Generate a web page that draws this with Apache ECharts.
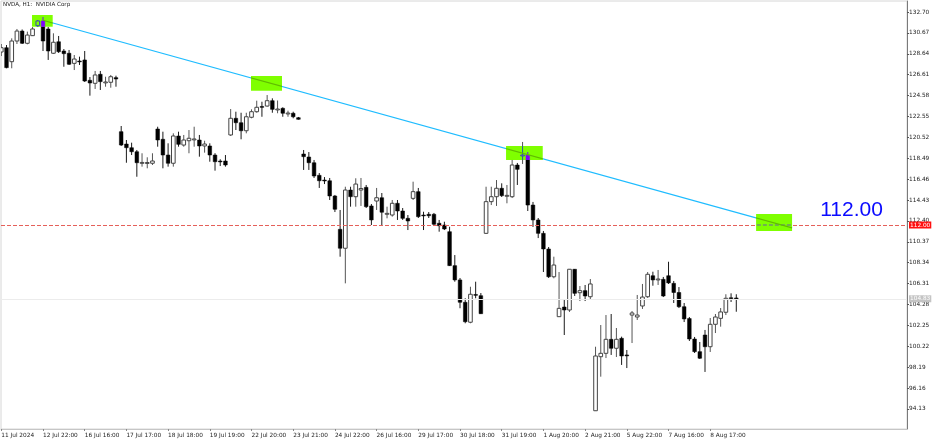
<!DOCTYPE html>
<html><head><meta charset="utf-8">
<script src="https://cdn.jsdelivr.net/npm/echarts@6/dist/echarts.min.js"></script>
<style>html,body{margin:0;padding:0;background:#fff}#chart{width:936px;height:442px}</style>
</head><body><div id="chart"></div>
<script>
// ---- data (H1 bars, index 0 = 11 Jul 21:00) ----
const opens = [128.81,129.23,127.87,129.88,130.85,129.66,130.40,131.37,131.83,131.05,128.69,129.81,128.91,128.69,127.71,127.94,128.04,126.06,125.77,126.65,125.87,125.87,126.32,121.07,119.87,119.51,119.12,118.05,118.05,118.00,121.33,120.33,118.80,118.00,120.65,119.77,120.19,120.33,120.26,119.68,119.68,118.80,118.22,118.22,120.75,122.37,121.94,121.16,122.47,123.01,123.52,123.56,124.08,123.24,123.34,122.86,122.86,122.43,118.90,118.61,118.05,116.83,116.37,116.30,114.82,111.58,109.74,115.40,114.75,115.40,115.66,113.85,114.33,114.65,113.10,112.97,114.11,113.36,112.65,114.59,115.24,112.97,113.04,113.04,112.17,112.00,111.35,108.05,106.66,104.49,102.55,105.25,105.13,111.19,114.27,114.75,115.57,114.85,114.75,117.83,118.71,118.80,113.94,112.49,111.19,109.67,106.97,103.09,104.03,103.74,107.70,105.42,105.62,105.03,93.95,99.20,99.53,100.89,100.02,100.99,99.37,103.25,103.06,104.13,105.03,107.07,106.72,106.72,107.07,106.33,105.44,104.06,102.91,100.92,99.69,101.31,100.17,102.35,102.93,103.52,104.93,104.91];
const highs = [129.59,129.49,130.14,131.05,131.00,130.79,131.24,131.92,132.21,131.24,130.63,130.37,129.10,129.01,128.52,128.36,128.91,126.38,126.97,126.97,126.41,126.58,126.51,121.62,120.26,120.00,119.29,118.97,118.58,118.97,121.55,121.07,119.94,120.91,121.07,120.75,121.23,121.55,120.75,120.19,119.94,118.98,118.39,118.80,123.27,123.01,122.91,122.91,123.24,124.08,123.98,124.63,124.31,124.10,123.44,123.11,123.01,122.50,119.29,119.09,118.32,117.05,116.66,116.57,114.92,113.46,115.72,115.72,116.54,116.57,115.89,114.04,115.60,115.11,113.78,114.43,114.43,113.65,112.97,116.21,115.60,113.29,113.26,113.17,112.49,112.32,111.83,109.08,106.85,104.88,106.00,106.49,105.39,115.72,115.72,116.37,116.05,115.89,118.32,118.03,120.07,119.09,114.24,112.68,111.42,109.86,108.92,107.43,104.71,107.72,107.72,106.07,106.17,106.75,100.17,102.28,103.25,103.35,101.99,101.15,99.85,103.64,105.20,106.27,107.43,107.46,107.63,106.95,108.43,106.56,105.97,104.42,103.06,101.12,100.63,101.80,102.96,103.35,103.93,105.27,105.36,105.27];
const lows = [128.42,127.23,127.23,129.59,129.59,129.56,130.37,131.24,128.91,128.04,128.62,128.72,127.38,127.55,127.06,127.55,125.90,124.57,125.22,125.12,125.44,125.34,125.44,119.68,118.05,118.80,116.69,117.67,117.51,117.83,119.61,117.51,117.67,117.67,119.61,119.61,118.97,119.61,118.64,119.03,118.15,117.28,117.73,117.67,120.65,121.23,120.33,120.91,122.37,122.91,122.52,123.50,122.91,122.86,122.52,122.52,122.37,122.24,117.35,117.35,116.57,115.60,115.98,114.43,113.26,108.92,106.33,113.78,113.78,113.85,113.65,112.00,113.46,112.00,112.65,112.81,112.49,112.49,111.51,114.43,112.68,111.51,112.68,111.90,111.35,111.51,108.02,106.49,103.91,102.45,102.45,104.88,103.35,111.13,113.94,113.85,114.72,114.11,114.62,115.89,117.93,113.36,111.81,110.73,107.43,106.85,106.82,103.06,101.31,103.55,105.10,104.61,104.61,104.71,93.95,97.26,99.07,99.37,99.17,98.40,98.10,100.53,102.77,103.84,104.91,106.10,106.17,105.00,106.27,104.42,103.93,102.57,100.73,99.56,98.98,97.72,99.66,101.50,102.12,103.25,104.52,103.57];
const closes = [129.23,127.29,129.88,130.85,129.66,130.46,131.05,131.83,129.88,128.91,129.76,128.84,128.65,127.62,128.13,127.91,125.99,125.80,126.58,125.93,125.90,126.41,126.19,119.77,119.51,119.12,118.05,118.08,118.07,118.22,120.26,118.80,118.00,120.65,119.84,120.26,120.43,120.36,119.68,119.87,118.80,118.15,118.19,117.83,122.37,121.94,121.16,122.52,123.01,123.44,123.47,124.08,123.24,123.27,122.86,122.88,122.52,122.27,118.64,118.05,116.76,116.30,116.28,114.82,113.53,109.74,115.40,114.75,115.98,115.55,113.78,112.49,114.65,113.24,113.13,114.11,113.36,112.65,112.39,115.24,112.81,112.94,112.90,112.07,111.93,111.61,108.05,106.66,104.49,102.60,105.27,105.20,103.38,114.27,114.75,115.57,114.85,114.88,117.83,117.41,118.80,113.94,112.49,111.19,109.67,106.97,108.11,103.90,103.74,107.70,105.36,105.62,105.10,106.27,99.27,99.53,100.89,100.02,100.89,99.27,99.32,103.45,103.25,105.00,107.21,106.66,106.75,105.10,106.37,105.44,104.06,102.87,100.92,99.69,99.05,100.17,102.35,103.06,103.55,104.88,104.92,104.83];

const xLabelBars = [0,8,16,24,32,40,48,56,64,72,80,88,96,104,112,120,128,136];
const xLabelText = ['11 Jul 2024','12 Jul 22:00','16 Jul 16:00','17 Jul 17:00','18 Jul 18:00','19 Jul 19:00','22 Jul 20:00','23 Jul 21:00','24 Jul 22:00','26 Jul 16:00','29 Jul 17:00','30 Jul 18:00','31 Jul 19:00','1 Aug 20:00','2 Aug 21:00','5 Aug 22:00','7 Aug 16:00','8 Aug 17:00'];
const yTicks = [132.70,130.67,128.64,126.61,124.58,122.55,120.52,118.49,116.46,114.43,112.40,110.37,108.34,106.31,104.28,102.25,100.22,98.19,96.16,94.13];

const trendPoints = [[8, 131.90], [151.7, 111.72]];
const boxes = [[5.89, 9.86, 132.41, 131.27], [47.9, 53.85, 126.48, 125.05], [96.83, 103.87, 119.68, 118.32], [144.8, 151.7, 113.07, 111.42]];
const levelPrice = 112.00;
const bidPrice = 104.83;
const noteAt = [[157.1, 113.46]];
const noteText = '112.00';
const titleText = 'NVDA, H1:  NVIDIA Corp';

// ---- styling ----
const FONT = '"DejaVu Sans", sans-serif';
const NORMAL = { bearBody: '#000000', bearWick: '#1a1a1a', bullWick: '#555555', bullEdge: '#444444', bullFill: '#ffffff' };
// colours as they look under the (XOR-style) highlight rectangles
const INVERTED = { bearBody: '#8000ff', bearWick: '#661ae5', bullWick: '#2b55aa', bullEdge: '#3c44bb', bullFill: '#7fff00' };
const TREND_COLOR = '#1fbcff', TREND_INV = '#61bc00';
const LEVEL_COLOR = '#e5605a', LEVEL_INV = '#6560a5';
const BOX_COLOR = '#7fff00';

const candleData = opens.map((o, i) => [i, o, closes[i], lows[i], highs[i]]);

function candleShapes(api, i, o, c, l, h, pal, clip) {
  const pO = api.coord([i, o]), pC = api.coord([i, c]);
  const pL = api.coord([i, Math.min(l, o, c)]), pH = api.coord([i, Math.max(h, o, c)]);
  const x = pO[0];
  const bw = api.size([1, 0])[0] * 0.7;
  const bull = c >= o;
  const top = Math.min(pO[1], pC[1]);
  const bh = Math.max(Math.abs(pO[1] - pC[1]), 0.9);
  const wick = { type: 'line', shape: { x1: x, y1: pH[1], x2: x, y2: pL[1] }, style: { stroke: bull ? pal.bullWick : pal.bearWick, lineWidth: 1 } };
  const body = { type: 'rect', shape: { x: x - bw / 2, y: top, width: bw, height: bh },
    style: bull ? { fill: pal.bullFill, stroke: pal.bullEdge, lineWidth: 1 } : { fill: pal.bearBody, stroke: pal.bearBody, lineWidth: 0.5 } };
  if (clip) { wick.clipPath = { type: 'rect', shape: clip }; body.clipPath = { type: 'rect', shape: clip }; }
  return [wick, body];
}

function renderCandle(params, api) {
  return { type: 'group', children: candleShapes(api, api.value(0), api.value(1), api.value(2), api.value(3), api.value(4), NORMAL, null) };
}

function renderBox(params, api) {
  const x0 = api.value(0), x1 = api.value(1);
  const p0 = api.coord([x0, api.value(2)]), p1 = api.coord([x1, api.value(3)]);
  const r = { x: p0[0], y: p0[1], width: p1[0] - p0[0], height: p1[1] - p0[1] };
  const children = [{ type: 'rect', shape: r, style: { fill: BOX_COLOR } }];
  for (let i = Math.floor(x0) - 1; i <= Math.ceil(x1) + 1; i++) {
    if (i < 0 || i >= opens.length) continue;
    children.push(...candleShapes(api, i, opens[i], closes[i], lows[i], highs[i], INVERTED, r));
  }
  const lv0 = api.coord([x0 - 1, levelPrice]), lv1 = api.coord([x1 + 1, levelPrice]);
  children.push({ type: 'line', shape: { x1: lv0[0], y1: lv0[1], x2: lv1[0], y2: lv1[1] }, style: { stroke: LEVEL_INV, lineWidth: 1, lineDash: [4, 2] }, clipPath: { type: 'rect', shape: r } });
  const t0 = api.coord(trendPoints[0]), t1 = api.coord(trendPoints[1]);
  children.push({ type: 'line', shape: { x1: t0[0], y1: t0[1], x2: t1[0], y2: t1[1] }, style: { stroke: TREND_INV, lineWidth: 1.2 }, clipPath: { type: 'rect', shape: r } });
  return { type: 'group', children };
}

const chart = echarts.init(document.getElementById('chart'));
chart.setOption({
  animation: false,
  backgroundColor: '#ffffff',
  grid: { left: 1, top: 1, width: 906, height: 428, show: true, borderColor: '#d6d6d6', borderWidth: 1, outerBoundsMode: 'none' },
  graphic: [{ type: 'text', left: 3, top: 2, style: { text: titleText, fill: '#222', font: '5.6px "DejaVu Sans"' } }],
  xAxis: {
    type: 'value', min: -0.0576, max: 173.75,
    splitLine: { show: false },
    axisLine: { onZero: false, lineStyle: { color: '#c6c6c6' } },
    axisTick: { show: true, customValues: xLabelBars, length: 2, lineStyle: { color: '#888' } },
    axisLabel: {
      customValues: xLabelBars,
      formatter: (v) => { const k = xLabelBars.indexOf(Math.round(v)); return k >= 0 ? xLabelText[k] : ''; },
      align: 'left', margin: 3, fontSize: 5.8, fontFamily: FONT, color: '#222'
    }
  },
  yAxis: {
    type: 'value', position: 'right', min: 92.175, max: 133.769,
    splitLine: { show: false },
    axisLine: { show: true, onZero: false, lineStyle: { color: '#7a7a7a' } },
    axisTick: { show: true, customValues: yTicks, length: 2, lineStyle: { color: '#555' } },
    axisLabel: {
      customValues: yTicks, formatter: (v) => v.toFixed(2),
      align: 'left', margin: 2, fontSize: 5.8, fontFamily: FONT, color: '#222'
    }
  },
  series: [
    {
      type: 'custom', name: 'NVDA', renderItem: renderCandle, data: candleData, clip: true, z: 2,
      encode: { x: 0, y: [1, 2, 3, 4] }
    },
    {
      type: 'line', name: 'trend', data: trendPoints, symbol: 'none', z: 3,
      lineStyle: { color: TREND_COLOR, width: 1.2 },
      markLine: {
        silent: true, symbol: ['none', 'none'], animation: false,
        data: [
          { yAxis: levelPrice, lineStyle: { color: LEVEL_COLOR, type: [4, 2], width: 1 },
            label: { show: true, position: 'end', formatter: levelPrice.toFixed(2), color: '#fff', backgroundColor: '#ff1010', padding: [1, 1, 0, 1], fontSize: 5.8, fontFamily: FONT, distance: 2 } },
          { yAxis: bidPrice, lineStyle: { color: '#ececec', type: 'solid', width: 1 },
            label: { show: true, position: 'end', formatter: bidPrice.toFixed(2), color: '#fff', backgroundColor: '#c4c4c4', padding: [1, 1, 0, 1], fontSize: 5.8, fontFamily: FONT, distance: 2 } }
        ]
      }
    },
    { type: 'custom', name: 'boxes', data: boxes, z: 10, clip: true, renderItem: renderBox },
    {
      type: 'custom', name: 'note', data: noteAt, z: 11,
      renderItem: (params, api) => {
        const p = api.coord([api.value(0), api.value(1)]);
        return { type: 'text', x: p[0], y: p[1],
                 style: { text: noteText, fill: '#0a0aff', fontSize: 21, fontFamily: '"Liberation Sans", Arial, sans-serif', align: 'left', verticalAlign: 'middle' } };
      }
    }
  ]
});
</script>
</body></html>
